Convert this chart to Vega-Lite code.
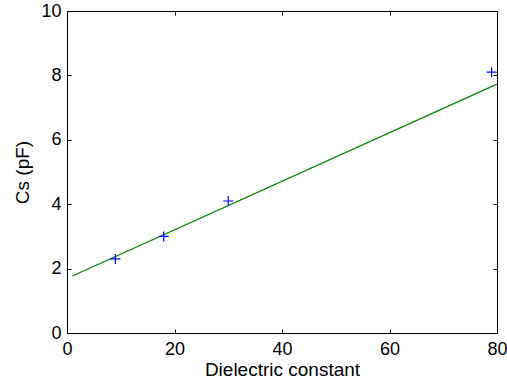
{
  "$schema": "https://vega.github.io/schema/vega-lite/v6.json",
  "width": 430,
  "height": 322,
  "autosize": "none",
  "padding": {"left": 67, "top": 11, "right": 10, "bottom": 50},
  "background": "white",
  "config": {
    "font": "Liberation Sans",
    "view": {"stroke": "black", "strokeWidth": 1},
    "axis": {
      "grid": false,
      "domainColor": "black",
      "tickColor": "black",
      "tickSize": -4,
      "labelFlush": false,
      "labelOverlap": false,
      "labelFont": "Liberation Sans",
      "labelFontSize": 18,
      "labelColor": "black",
      "titleFont": "Liberation Sans",
      "titleFontSize": 19,
      "titleFontWeight": "normal",
      "titleColor": "black"
    }
  },
  "datasets": {
    "points": [
      {"eps": 9, "cs": 2.3},
      {"eps": 18, "cs": 3.0},
      {"eps": 30, "cs": 4.1},
      {"eps": 79, "cs": 8.1}
    ],
    "fit": [
      {"eps": 1, "cs": 1.77},
      {"eps": 80, "cs": 7.73}
    ]
  },
  "layer": [
    {
      "data": {"name": "fit"},
      "mark": {"type": "line", "color": "#008000", "strokeWidth": 1.2},
      "encoding": {
        "x": {"field": "eps", "type": "quantitative", "scale": {"domain": [0, 80], "nice": false},
              "axis": {"orient": "top", "labels": false, "title": null, "values": [0, 20, 40, 60, 80]}},
        "y": {"field": "cs", "type": "quantitative", "scale": {"domain": [0, 10], "nice": false},
              "axis": {"orient": "right", "labels": false, "title": null, "values": [0, 2, 4, 6, 8, 10]}}
      }
    },
    {
      "data": {"name": "points"},
      "mark": {"type": "point", "shape": "M-1,0H1M0,-1V1", "filled": false, "color": "#0000ff", "size": 100, "strokeWidth": 1.2, "opacity": 1},
      "encoding": {
        "x": {"field": "eps", "type": "quantitative", "scale": {"domain": [0, 80], "nice": false},
              "axis": {"orient": "bottom", "title": "Dielectric constant", "values": [0, 20, 40, 60, 80], "labelPadding": 11, "titlePadding": 2}},
        "y": {"field": "cs", "type": "quantitative", "scale": {"domain": [0, 10], "nice": false},
              "axis": {"orient": "left", "title": "Cs (pF)", "values": [0, 2, 4, 6, 8, 10], "labelPadding": 10, "titlePadding": 8}}
      }
    }
  ],
  "resolve": {"axis": {"x": "independent", "y": "independent"}}
}
